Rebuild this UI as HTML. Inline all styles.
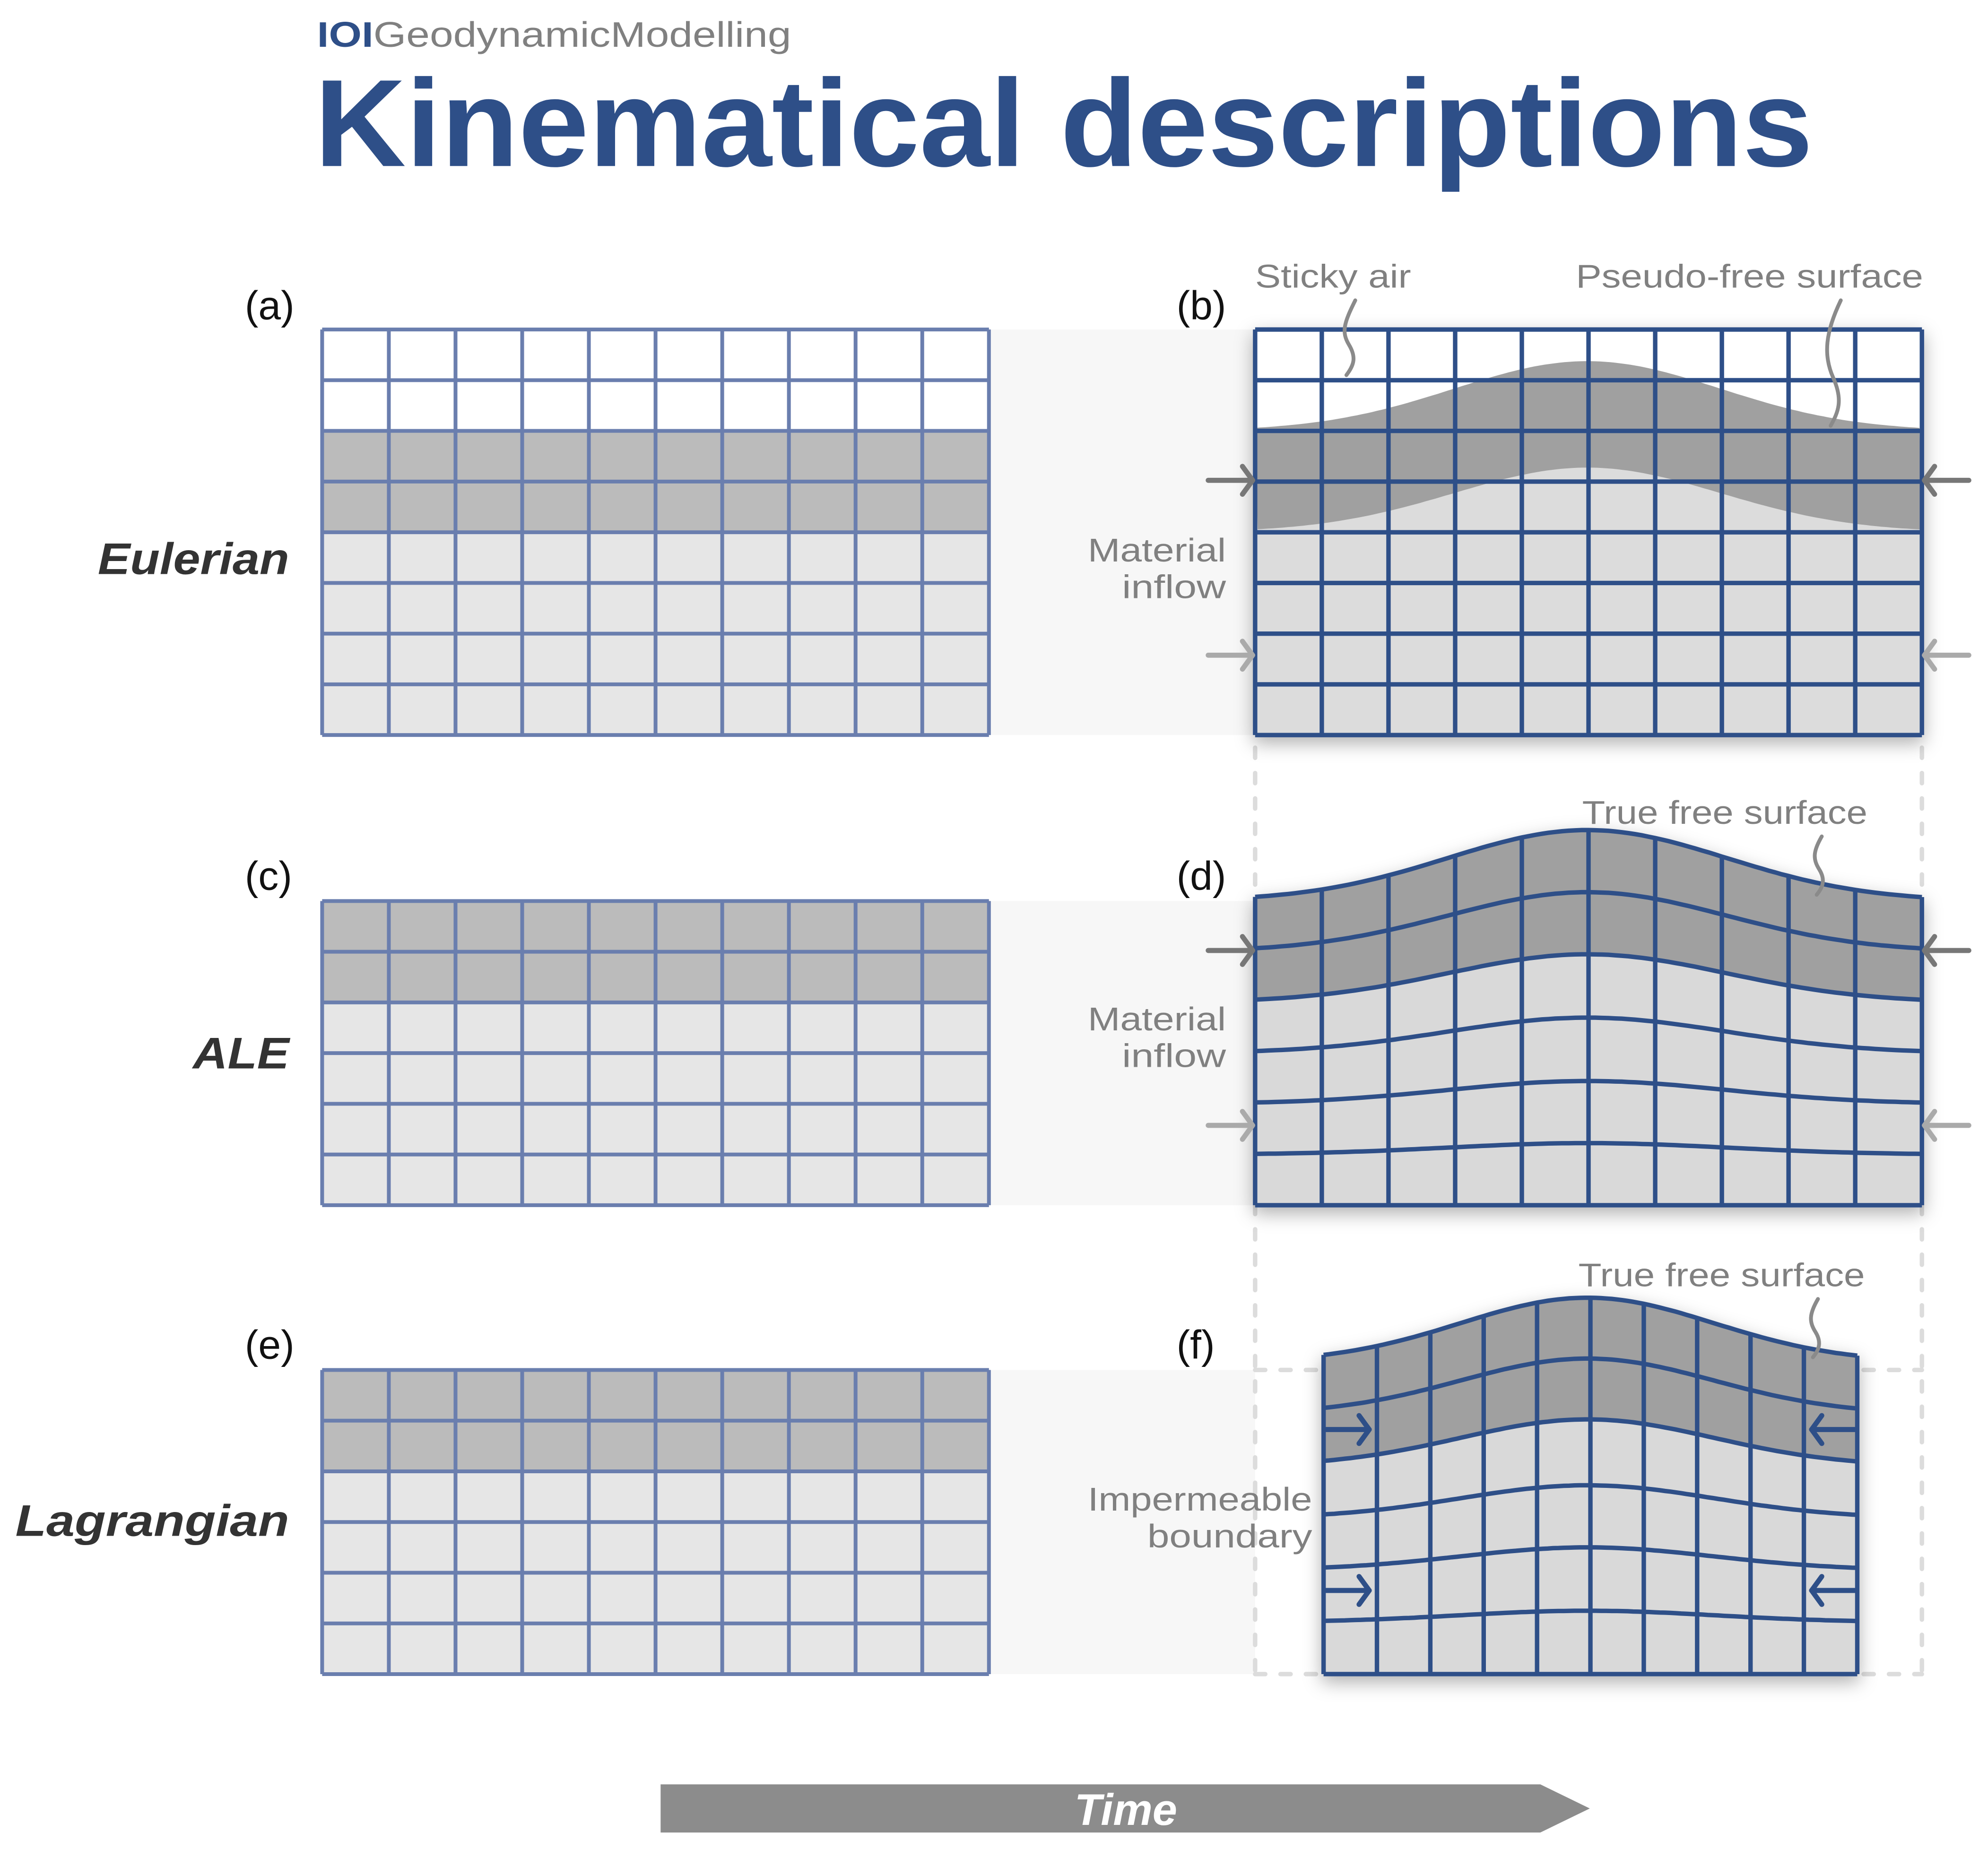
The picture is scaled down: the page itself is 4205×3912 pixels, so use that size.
<!DOCTYPE html>
<html><head><meta charset="utf-8"><style>
html,body{margin:0;padding:0;background:#fff;}
svg{display:block;}
text{font-family:"Liberation Sans",sans-serif;}
</style></head><body>
<svg id="fig" width="4205" height="3912" viewBox="0 0 1568 1459" xmlns="http://www.w3.org/2000/svg">
<defs>
<filter id="sh" x="-10%" y="-10%" width="120%" height="125%"><feDropShadow dx="0" dy="5" stdDeviation="7" flood-color="#000" flood-opacity="0.3"/></filter>
</defs>
<rect width="1568" height="1459" fill="#fff"/>
<text x="250" y="37" font-size="28" font-weight="bold" fill="#2e4f88" textLength="374" lengthAdjust="spacingAndGlyphs">IOI<tspan fill="#808080" font-weight="normal">GeodynamicModelling</tspan></text>
<text x="248" y="131" font-size="98" font-weight="bold" fill="#2e4f88" textLength="1182" lengthAdjust="spacingAndGlyphs">Kinematical descriptions</text>

<g id="bands"></g>
<g id="dashes" stroke="#dcdcdc" stroke-width="3.5" stroke-dasharray="8 12" stroke-linecap="round" fill="none">
<line x1="990" y1="590" x2="990" y2="1321"/>
<line x1="1516" y1="590" x2="1516" y2="1321"/>
<line x1="990" y1="1081" x2="1516" y2="1081"/>
<line x1="990" y1="1321" x2="1516" y2="1321"/>
</g>
<g id="grids"></g>

<g font-size="32" fill="#111">
<text x="193" y="252">(a)</text><text x="928" y="252">(b)</text>
<text x="193" y="702">(c)</text><text x="928" y="702">(d)</text>
<text x="193" y="1072">(e)</text><text x="928" y="1072">(f)</text>
</g>
<g font-size="35" font-weight="bold" font-style="italic" fill="#333">
<text x="77" y="453" textLength="151" lengthAdjust="spacingAndGlyphs">Eulerian</text>
<text x="152" y="843" textLength="76" lengthAdjust="spacingAndGlyphs">ALE</text>
<text x="12" y="1212" textLength="216" lengthAdjust="spacingAndGlyphs">Lagrangian</text>
</g>
<g font-size="26" fill="#808080">
<text x="990" y="227" textLength="123" lengthAdjust="spacingAndGlyphs">Sticky air</text>
<text x="1243" y="227" textLength="274" lengthAdjust="spacingAndGlyphs">Pseudo-free surface</text>
<text x="858" y="443" textLength="109" lengthAdjust="spacingAndGlyphs">Material</text>
<text x="885" y="472" textLength="82" lengthAdjust="spacingAndGlyphs">inflow</text>
<text x="858" y="813" textLength="109" lengthAdjust="spacingAndGlyphs">Material</text>
<text x="885" y="842" textLength="82" lengthAdjust="spacingAndGlyphs">inflow</text>
<text x="1248" y="650" textLength="225" lengthAdjust="spacingAndGlyphs">True free surface</text>
<text x="1245" y="1015" textLength="226" lengthAdjust="spacingAndGlyphs">True free surface</text>
<text x="858" y="1192" textLength="177" lengthAdjust="spacingAndGlyphs">Impermeable</text>
<text x="905" y="1221" textLength="130" lengthAdjust="spacingAndGlyphs">boundary</text>
</g>
<g stroke="#8a8a8a" stroke-width="3" fill="none" stroke-linecap="round">
<path d="M1069 237 C1060 255,1058 262,1064 272 C1070 282,1068 288,1062 296"/>
<path d="M1452 237 C1440 262,1438 280,1446 298 C1454 316,1450 325,1444 336"/>
<path d="M1437 660 C1430 672,1430 678,1435 686 C1440 694,1438 700,1433 706"/>
<path d="M1434 1025 C1427 1037,1427 1043,1432 1051 C1437 1059,1435 1065,1430 1071"/>
</g>
<g id="arrows"></g>
<g>
<path d="M521 1408 L1215 1408 L1254 1427 L1215 1446 L521 1446 Z" fill="#8c8c8c"/>
<text x="888" y="1440" font-size="35" font-weight="bold" font-style="italic" fill="#fff" text-anchor="middle">Time</text>
</g>
</svg>
<script>
// Panel data
const leftRows = [8, 6, 6];
const leftTops = [260, 711, 1081];
const darkRowsStart = [2, 0, 0];
const nCols = 10;
const bumpCenter = 1252;
const dTopAmp = [56, 47, 38, 28, 18, 9, 0];
const fTopAmp = [51, 44, 37, 26, 18, 9, 0];
const bBandAmp = [55, 51];

const NS = 'http://www.w3.org/2000/svg';
const svg = document.getElementById('fig');
const grids = document.getElementById('grids');
function mk(tag, attrs, parent){ const e=document.createElementNS(NS,tag); for(const k in attrs) e.setAttribute(k,attrs[k]); (parent||grids).appendChild(e); return e; }
function g(x, s){ return Math.exp(-Math.pow((x-bumpCenter)/s,2)/2); }

const bands = document.getElementById('bands');
leftTops.forEach((t,i)=>{
  const b = mk('rect',{x:780,y:t,width:210,height:leftRows[i]*40,fill:'#f7f7f7'},bands);
  
  
});

leftTops.forEach((top,p)=>{
  const grp = mk('g',{});
  
  
  const x0=254, x1=780, n=leftRows[p], h=40, w=(x1-x0)/nCols;
  for(let r=0;r<n;r++){
    let fill = r<darkRowsStart[p] ? '#fff' : (r<darkRowsStart[p]+2 ? '#bbbbbb' : '#e6e6e6');
    mk('rect',{x:x0,y:top+r*h,width:x1-x0,height:h,fill:fill},grp);
  }
  for(let r=0;r<=n;r++) mk('line',{x1:x0,x2:x1,y1:top+r*h,y2:top+r*h,stroke:'#6a7eae','stroke-width':3},grp);
  for(let c=0;c<=nCols;c++) mk('line',{x1:x0+c*w,x2:x0+c*w,y1:top,y2:top+n*h,stroke:'#6a7eae','stroke-width':3},grp);
});

(function(){
  const grp = mk('g',{filter:'url(#sh)'});
  
  
  const x0=990,x1=1516,top=260,h=40,n=8,w=(x1-x0)/nCols,s=105;
  mk('rect',{x:x0,y:top,width:x1-x0,height:n*h,fill:'#dcdcdc'},grp);
  mk('rect',{x:x0,y:top,width:x1-x0,height:80,fill:'#fff'},grp);
  let d='';
  for(let x=x0;x<=x1;x+=4) d+=(x===x0?'M':'L')+x+' '+(340-bBandAmp[0]*g(x,s)).toFixed(1)+' ';
  for(let x=x1;x>=x0;x-=4) d+='L'+x+' '+(420-bBandAmp[1]*g(x,s)).toFixed(1)+' ';
  mk('path',{d:d+'Z',fill:'#a0a0a0'},grp);
  for(let r=0;r<=n;r++) mk('line',{x1:x0,x2:x1,y1:top+r*h,y2:top+r*h,stroke:'#2e4f88','stroke-width':3.5},grp);
  for(let c=0;c<=nCols;c++) mk('line',{x1:x0+c*w,x2:x0+c*w,y1:top,y2:top+n*h,stroke:'#2e4f88','stroke-width':3.5},grp);
})();

function deformed(name,x0,x1,top,h,amps,s){
  const grp = mk('g',{filter:'url(#sh)'});
  
  
  const n=6,w=(x1-x0)/nCols;
  const yAt=(i,x)=>top+i*h-amps[i]*g(x,s);
  const line=(i,dir)=>{let d='';const xs=[];for(let x=x0;x<=x1+0.01;x+=(x1-x0)/100)xs.push(x);if(dir<0)xs.reverse();xs.forEach((x,k)=>d+=(k?'L':'')+x.toFixed(1)+' '+yAt(i,x).toFixed(1)+' ');return d;};
  mk('path',{d:'M'+line(0,1)+'L'+x1+' '+(top+n*h)+' L'+x0+' '+(top+n*h)+' Z',fill:'#d9d9d9'},grp);
  mk('path',{d:'M'+line(0,1)+'L'+line(2,-1)+'Z',fill:'#a0a0a0'},grp);
  for(let i=0;i<=n;i++) mk('path',{d:'M'+line(i,1),stroke:'#2e4f88','stroke-width':3.5,fill:'none'},grp);
  for(let c=0;c<=nCols;c++){const x=x0+c*w; mk('line',{x1:x,x2:x,y1:yAt(0,x),y2:top+n*h,stroke:'#2e4f88','stroke-width':3.5},grp);}
}
deformed('ale-grid-d',990,1516,711,40,dTopAmp,110);
deformed('lagrangian-grid-f',1044,1465,1075,41,fTopAmp,100);

const arr = document.getElementById('arrows');
function arrow(name,xs,xe,y,col){
  const a=mk('g',{stroke:col,'stroke-width':4,fill:'none','stroke-linecap':'round','stroke-linejoin':'round'},arr);
  
  
  const dir=Math.sign(xe-xs);
  mk('line',{x1:xs,y1:y,x2:xe,y2:y},a);
  mk('path',{d:`M${xe-dir*8} ${y-11} L${xe} ${y} L${xe-dir*8} ${y+11}`},a);
}
arrow('inflow-arrow-b-left-top',953,988,379,'#777');
arrow('inflow-arrow-b-right-top',1553,1518,379,'#777');
arrow('inflow-arrow-b-left-bottom',953,988,517,'#aaa');
arrow('inflow-arrow-b-right-bottom',1553,1518,517,'#aaa');
arrow('inflow-arrow-d-left-top',953,988,750,'#777');
arrow('inflow-arrow-d-right-top',1553,1518,750,'#777');
arrow('inflow-arrow-d-left-bottom',953,988,888,'#aaa');
arrow('inflow-arrow-d-right-bottom',1553,1518,888,'#aaa');
arrow('boundary-arrow-f-left-top',1046,1080,1128,'#2e4f88');
arrow('boundary-arrow-f-right-top',1463,1429,1128,'#2e4f88');
arrow('boundary-arrow-f-left-bottom',1046,1080,1255,'#2e4f88');
arrow('boundary-arrow-f-right-bottom',1463,1429,1255,'#2e4f88');
</script>
</body></html>
